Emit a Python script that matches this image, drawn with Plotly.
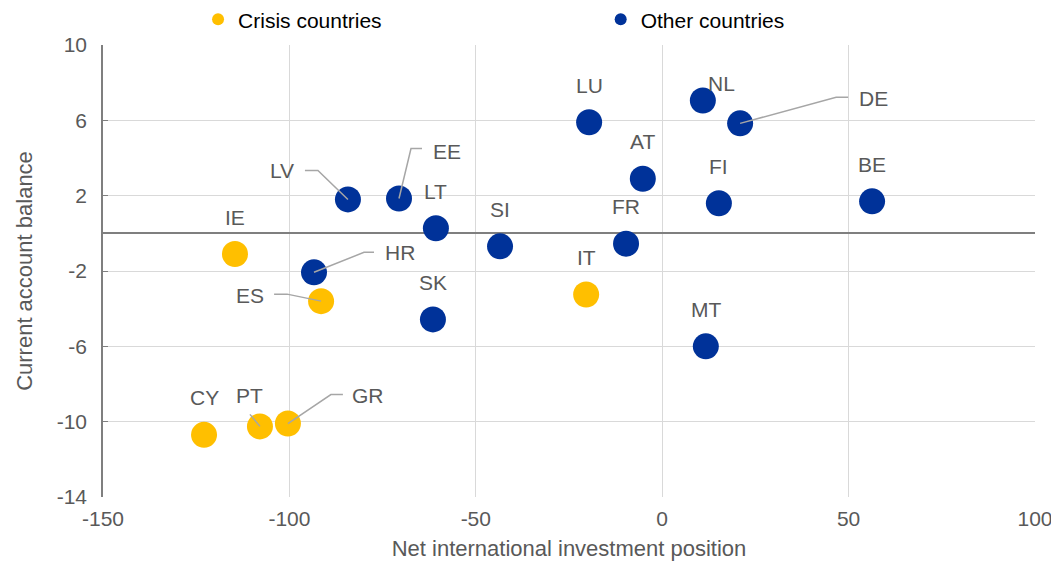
"""Scatter: current account balance vs net international investment position."""

import plotly.graph_objects as go

# Data
crisis_names = ["IE", "ES", "IT", "CY", "PT", "GR"]
crisis_niip = [-114.6, -91.5, -20.4, -122.9, -107.9, -100.4]
crisis_cab = [-1.1, -3.6, -3.25, -10.7, -10.25, -10.1]

other_names = ["LV", "EE", "LT", "HR", "SK", "SI", "LU", "AT", "FR",
               "NL", "DE", "FI", "BE", "MT"]
other_niip = [-84.3, -70.6, -60.7, -93.4, -61.5, -43.5, -19.6, -5.2, -9.7,
              10.9, 20.9, 15.2, 56.3, 11.7]
other_cab = [1.8, 1.85, 0.27, -2.07, -4.57, -0.69, 5.9, 2.9, -0.55,
             7.05, 5.84, 1.6, 1.7, -6.0]

x_ticks = [-150, -100, -50, 0, 50, 100]
y_ticks = [10, 6, 2, -2, -6, -10, -14]

YELLOW = "#ffbf00"
BLUE = "#003299"
TEXT = "#595959"
LEADER = "#a6a6a6"

# label offsets in pixels (dx, dy; dy positive = up) and optional leader path
label_style = {
    "LV": ((-66, 29), [(0, 0), (-30, 29), (-43, 29)]),
    "EE": ((48, 47), [(0, 0), (12, 50), (23, 50)]),
    "HR": ((86, 20), [(0, 0), (50, 20), (60, 20)]),
    "ES": ((-71, 6), [(0, 0), (-34, 7), (-47, 7)]),
    "PT": ((-10, 31), [(0, 0), (-10, 12)]),
    "GR": ((80, 28), [(0, 0), (43, 29), (55, 29)]),
    "DE": ((133, 25), [(0, 0), (96, 26), (108, 26)]),
    "NL": ((19, 17), None),
}
DEFAULT_OFFSET = (0, 37)

fig = go.Figure()
fig.add_trace(go.Scatter(
    x=crisis_niip, y=crisis_cab, mode="markers", name="Crisis countries",
    marker=dict(color=YELLOW, size=26), legend="legend",
))
fig.add_trace(go.Scatter(
    x=other_niip, y=other_cab, mode="markers", name="Other countries",
    marker=dict(color=BLUE, size=26), legend="legend2",
))

for names, xs, ys in [(crisis_names, crisis_niip, crisis_cab),
                      (other_names, other_niip, other_cab)]:
    for name, x, y in zip(names, xs, ys):
        offset, path = label_style.get(name, (DEFAULT_OFFSET, None))
        fig.add_annotation(
            x=x, y=y, text=name, showarrow=False,
            xshift=offset[0], yshift=offset[1],
            font=dict(size=21, color=TEXT),
        )
        if path:
            d = "M " + " L ".join(f"{px},{py}" for px, py in path)
            fig.add_shape(
                type="path", path=d, xref="x", yref="y",
                xsizemode="pixel", ysizemode="pixel", xanchor=x, yanchor=y,
                line=dict(color=LEADER, width=1.5), layer="above",
            )

legend_common = dict(
    orientation="h", yanchor="middle", xanchor="left", y=1.056,
    itemsizing="constant", bgcolor="rgba(0,0,0,0)",
    font=dict(size=21, color="#000000"),
)

# page body adds an 8px offset, so the figure is 8px smaller than the window
fig.update_layout(
    width=1051, height=560,
    margin=dict(l=95, r=24, t=37, b=71, autoexpand=False),
    plot_bgcolor="white", paper_bgcolor="white",
    font=dict(family="Liberation Sans, Arial, sans-serif", color=TEXT, size=20),
    legend=dict(x=0.102, **legend_common),
    legend2=dict(x=0.534, **legend_common),
    showlegend=True,
)
fig.update_xaxes(
    range=[-150, 100], tickvals=x_ticks, ticktext=[str(v) for v in x_ticks],
    showgrid=True, gridcolor="#d9d9d9", gridwidth=1,
    zeroline=False, showline=False, ticklabelstandoff=7,
    title=dict(text="Net international investment position", standoff=11,
               font=dict(size=22, color=TEXT)),
    tickfont=dict(size=21, color=TEXT),
)
fig.update_yaxes(
    range=[-14, 10], tickvals=y_ticks, ticktext=[str(v) for v in y_ticks],
    showgrid=True, gridcolor="#d9d9d9", gridwidth=1,
    zeroline=True, zerolinecolor="#7f7f7f", zerolinewidth=1.5,
    showline=True, linecolor="#7f7f7f", linewidth=1.5,
    ticks="inside", ticklen=5, tickcolor="#7f7f7f", ticklabelstandoff=10,
    title=dict(text="Current account balance", standoff=18,
               font=dict(size=22, color=TEXT)),
    tickfont=dict(size=21, color=TEXT),
)

fig.write_html("out.html")
